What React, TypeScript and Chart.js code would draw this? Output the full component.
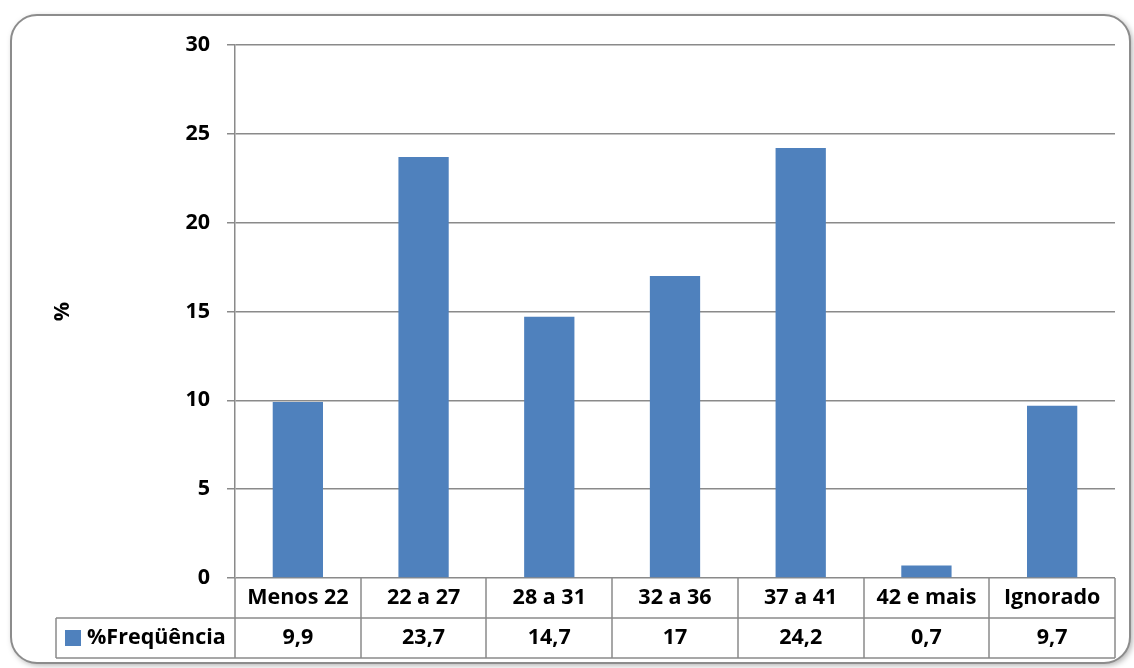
import React, { useEffect, useRef } from "react";
import { Chart, registerables } from "chart.js";

Chart.register(...registerables);

const categories = ["Menos 22", "22 a 27", "28 a 31", "32 a 36", "37 a 41", "42 e mais", "Ignorado"];
const frequencia = [9.9, 23.7, 14.7, 17, 24.2, 0.7, 9.7];
const seriesName = "%Freqüência";
const yTitle = "%";
const yMin = 0;
const yMax = 30;
const yStep = 5;

const FONT = "'Open Sans', 'Noto Sans', sans-serif";
const FSIZE = 21.5;
const BAR = "#4F81BD";
const GRID = "#8a8a8a";

const fmt = (v: number) => String(v).replace(".", ",");

const framePlugin = {
  id: "frame",
  beforeDraw(chart: any) {
    const ctx = chart.ctx;
    ctx.save();
    const x = 11, y = 15, w = 1119, h = 648, r = 26;
    ctx.beginPath();
    ctx.moveTo(x + r, y);
    ctx.lineTo(x + w - r, y);
    ctx.arcTo(x + w, y, x + w, y + r, r);
    ctx.lineTo(x + w, y + h - r);
    ctx.arcTo(x + w, y + h, x + w - r, y + h, r);
    ctx.lineTo(x + r, y + h);
    ctx.arcTo(x, y + h, x, y + h - r, r);
    ctx.lineTo(x, y + r);
    ctx.arcTo(x, y, x + r, y, r);
    ctx.closePath();
    ctx.shadowColor = "rgba(0,0,0,0.35)";
    ctx.shadowBlur = 6;
    ctx.shadowOffsetX = 2;
    ctx.shadowOffsetY = 2;
    ctx.fillStyle = "#ffffff";
    ctx.fill();
    ctx.shadowColor = "transparent";
    ctx.lineWidth = 2;
    ctx.strokeStyle = "#8c8c8c";
    ctx.stroke();
    ctx.restore();
  },
};

const tablePlugin = {
  id: "dataTable",
  afterDraw(chart: any) {
    const ctx = chart.ctx;
    const area = chart.chartArea;
    const n = categories.length;
    const cw = (area.right - area.left) / n;
    const top = area.bottom;
    const mid = top + 40;
    const bot = top + 80;
    const legendLeft = 56;
    ctx.save();
    ctx.strokeStyle = GRID;
    ctx.lineWidth = 1.5;
    ctx.beginPath();
    for (let i = 0; i <= n; i++) {
      const xb = Math.round(area.left + i * cw);
      ctx.moveTo(xb, top);
      ctx.lineTo(xb, bot);
    }
    ctx.moveTo(legendLeft, mid);
    ctx.lineTo(area.right, mid);
    ctx.moveTo(legendLeft, bot);
    ctx.lineTo(area.right, bot);
    ctx.moveTo(legendLeft, mid);
    ctx.lineTo(legendLeft, bot);
    ctx.stroke();

    ctx.fillStyle = "#000";
    ctx.font = `bold ${FSIZE}px ${FONT}`;
    ctx.textAlign = "center";
    ctx.textBaseline = "middle";
    const xs = chart.scales.x;
    categories.forEach((c, i) => {
      const cx = xs.getPixelForValue(i);
      ctx.fillText(c, cx, top + 20);
      ctx.fillText(fmt(frequencia[i]), cx, mid + 20);
    });
    ctx.fillStyle = BAR;
    ctx.fillRect(65, mid + 12, 16, 16);
    ctx.fillStyle = "#000";
    ctx.textAlign = "left";
    ctx.fillText(seriesName, 87, mid + 20);

    ctx.translate(63, (area.top + area.bottom) / 2);
    ctx.rotate(-Math.PI / 2);
    ctx.textAlign = "center";
    ctx.fillText(yTitle, 0, 0);
    ctx.restore();
  },
};

export default function App() {
  const ref = useRef<HTMLCanvasElement>(null);
  useEffect(() => {
    document.body.style.margin = "0";
    const chart = new Chart(ref.current!, {
      type: "bar",
      data: {
        labels: categories,
        datasets: [
          {
            label: seriesName,
            data: frequencia,
            backgroundColor: BAR,
            barPercentage: 0.4,
            categoryPercentage: 1,
          },
        ],
      },
      options: {
        animation: false,
        responsive: false,
        layout: { padding: { top: 45, bottom: 90, right: 19, left: 0 } },
        plugins: { legend: { display: false }, tooltip: { enabled: false } },
        scales: {
          x: { display: false },
          y: {
            min: yMin,
            max: yMax,
            ticks: {
              stepSize: yStep,
              color: "#000",
              padding: 17,
              font: { family: FONT, size: FSIZE, weight: "bold" },
            },
            grid: { color: GRID, lineWidth: 1.5, tickLength: 8 },
            border: { color: GRID, width: 1.5 },
            afterFit: (s: any) => {
              s.width = 235;
            },
          },
        },
      },
      plugins: [framePlugin, tablePlugin],
    });
    return () => chart.destroy();
  }, []);
  return (
    <div style={{ position: "absolute", left: 0, top: 0, width: 1134, height: 668 }}>
      <canvas ref={ref} width={1134} height={668} />
    </div>
  );
}
